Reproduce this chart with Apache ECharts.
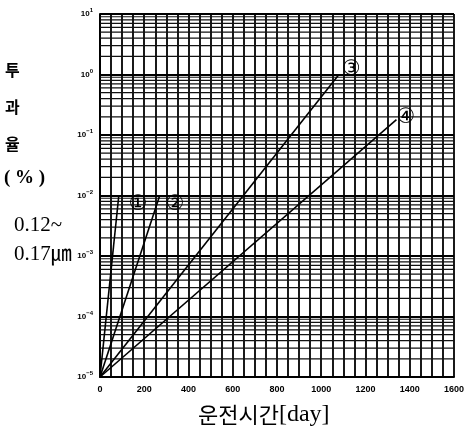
<!DOCTYPE html>
<html>
<head>
<meta charset="utf-8">
<script src="https://cdn.jsdelivr.net/npm/echarts@6/dist/echarts.min.js"></script>
<style>
html,body{margin:0;padding:0;background:#fff;}
#chart{width:467px;height:436px;}
</style>
</head>
<body>
<div id="chart"></div>
<script>
// ---- data ----
const lineNames = ['①', '②', '③', '④'];
const startPoint = [0, 1e-5];
const endDays = [85, 270, 1080, 1340];
const endValues = [1e-2, 1e-2, 1.0, 0.18];
const xTickLabels = [0, 200, 400, 600, 800, 1000, 1200, 1400, 1600];
const yDecadeExponents = [-5, -4, -3, -2, -1, 0, 1];
const minorMultipliers = [2, 3, 4, 5, 6, 7, 8, 9];

const chart = echarts.init(document.getElementById('chart'), null, {renderer: 'canvas'});

const xMin = xTickLabels[0];
const xMax = xTickLabels[xTickLabels.length - 1];

const minorGridValues = [];
yDecadeExponents.slice(0, -1).forEach(function (e) {
  minorMultipliers.forEach(function (m) { minorGridValues.push(m * Math.pow(10, e)); });
});

const labelOffsets = [[7, 9], [3, 9], [0, -5], [-3, -2]];

const series = [];

minorGridValues.forEach(function (v, i) {
  series.push({
    name: 'minor' + i,
    type: 'line',
    symbol: 'none',
    silent: true,
    animation: false,
    lineStyle: {color: '#111', width: 1.2},
    data: [[xMin, v], [xMax, v]],
    z: 1
  });
});

lineNames.forEach(function (name, i) {
  series.push({
    name: name,
    type: 'line',
    symbol: 'none',
    animation: false,
    lineStyle: {color: '#000', width: 1.6},
    data: [startPoint, [endDays[i], endValues[i]]],
    endLabel: {
      show: true,
      formatter: name,
      distance: 3,
      offset: labelOffsets[i],
      color: '#000',
      fontSize: 21,
      fontFamily: 'DejaVu Sans',
      fontWeight: 'normal'
    },
    z: 5
  });
});

const option = {
  backgroundColor: '#fff',
  animation: false,
  grid: {left: 100, right: 11, top: 14, bottom: 59, containLabel: false},
  xAxis: {
    type: 'value',
    min: xMin,
    max: xMax,
    interval: 200,
    axisLine: {show: true, onZero: false, lineStyle: {color: '#000', width: 2}},
    axisTick: {show: false},
    minorTick: {show: true, splitNumber: 4, length: 0},
    axisLabel: {
      color: '#000', fontSize: 9, fontWeight: 'bold', fontFamily: 'Liberation Sans',
      margin: 8,
      formatter: function (v) { return String(v); }
    },
    splitLine: {show: true, lineStyle: {color: '#000', width: 1.8}},
    minorSplitLine: {show: true, lineStyle: {color: '#000', width: 1.8}}
  },
  yAxis: {
    type: 'log',
    logBase: 10,
    min: Math.pow(10, yDecadeExponents[0]),
    max: Math.pow(10, yDecadeExponents[yDecadeExponents.length - 1]),
    splitNumber: 6,
    axisLine: {show: true, onZero: false, lineStyle: {color: '#000', width: 2}},
    axisTick: {show: false},
    axisLabel: {
      margin: 7,
      formatter: function (v) {
        const e = Math.round(Math.log10(v));
        return '{b|10}{e|' + (e < 0 ? '−' + (-e) : e) + '}';
      },
      rich: {
        b: {fontSize: 8, fontWeight: 'bold', color: '#000', fontFamily: 'Liberation Sans'},
        e: {fontSize: 6, fontWeight: 'bold', color: '#000', fontFamily: 'Liberation Sans', padding: [0, 0, 7, 0]}
      }
    },
    splitLine: {show: true, lineStyle: {color: '#000', width: 1.8}}
  },
  series: series,
  graphic: [
    {type: 'text', left: 5, top: 62, style: {text: '투', font: 'bold 16px "Noto Sans CJK KR"', fill: '#000'}},
    {type: 'text', left: 5, top: 99, style: {text: '과', font: 'bold 16px "Noto Sans CJK KR"', fill: '#000'}},
    {type: 'text', left: 5, top: 136, style: {text: '율', font: 'bold 16px "Noto Sans CJK KR"', fill: '#000'}},
    {type: 'text', left: 4, top: 169, style: {text: '( % )', font: 'bold 19px "Liberation Serif"', fill: '#000'}},
    {type: 'text', left: 14, top: 215, style: {text: '0.12~', font: '21px "Liberation Serif"', fill: '#000'}},
    {type: 'text', left: 14, top: 244, style: {text: '0.17㎛', font: '21px "Liberation Serif", "Noto Sans CJK KR"', fill: '#000'}},
    {type: 'text', left: 198, top: 403, style: {
      text: '{k|운전시간}{d|[day]}',
      rich: {
        k: {fontSize: 22, fontFamily: 'Noto Sans CJK KR', fill: '#000'},
        d: {fontSize: 24, fontFamily: 'Liberation Serif', fill: '#000'}
      }
    }}
  ]
};

chart.setOption(option);
</script>
</body>
</html>
